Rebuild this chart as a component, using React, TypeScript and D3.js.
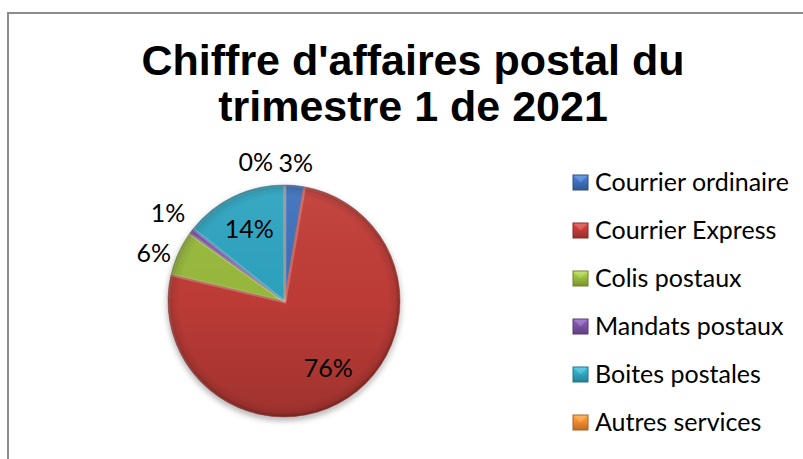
import React from "react";
import * as d3 from "d3";

const categories = [
  "Courrier ordinaire",
  "Courrier Express",
  "Colis postaux",
  "Mandats postaux",
  "Boites postales",
  "Autres services",
];
const values = [2.7, 76.0, 6.2, 0.8, 14.3, 0.0];
const colors = ["#3d71bd", "#c23c38", "#9abb3e", "#7b52a6", "#2fa5c1", "#f28a30"];
const titleLines = ["Chiffre d'affaires postal du", "trimestre 1 de 2021"];

const W = 803;
const H = 459;
const cx = 284;
const cy = 301;
const R = 116;
const labelFont = "Lato, 'Open Sans', sans-serif";
const labelSize = 25;

export default function App() {
  const total = d3.sum(values);
  const pie = d3
    .pie<number>()
    .sort(null)
    .value((d) => d)
    .startAngle(0)
    .endAngle(2 * Math.PI);
  const arcs = pie(values);
  const arcGen = d3.arc<d3.PieArcDatum<number>>().innerRadius(0).outerRadius(R);
  const inLabelArc = d3
    .arc<d3.PieArcDatum<number>>()
    .innerRadius(R * 0.69)
    .outerRadius(R * 0.69);

  const pct = (v: number) => `${Math.round((v / total) * 100)}%`;

  type Lab = { x: number; y: number; text: string; w: number; h: number; top: boolean };
  const labels: Lab[] = [];
  const placed: Lab[] = [];
  const gap = 10;
  const collH = 40;
  arcs.forEach((a) => {
    const text = pct(a.data);
    const w = text.length * labelSize * 0.62;
    const h = labelSize;
    const share = a.data / total;
    if (share >= 0.1) {
      const [x, y] = inLabelArc.centroid(a);
      labels.push({ x, y, text, w, h, top: false });
    } else {
      const mid = (a.startAngle + a.endAngle) / 2;
      const dx = Math.sin(mid);
      const dy = -Math.cos(mid);
      const hw = w / 2;
      const hh = h / 2;
      const d = Math.min(
        Math.abs(dx) > 1e-6 ? hw / Math.abs(dx) : Infinity,
        Math.abs(dy) > 1e-6 ? hh / Math.abs(dy) : Infinity
      );
      const lab: Lab = {
        x: dx * (R + gap + d),
        y: dy * (R + gap + d),
        text,
        w,
        h,
        top: dy < -0.9,
      };
      placed.forEach((p) => {
        const overX = Math.abs(lab.x - p.x) < (lab.w + p.w) / 2 + 4;
        const overY = Math.abs(lab.y - p.y) < collH;
        if (overX && overY) {
          if (lab.top && p.top) {
            if (lab.x <= p.x) lab.x = p.x - (lab.w + p.w) / 2 - 9;
            else lab.x = p.x + (lab.w + p.w) / 2 + 9;
          } else if (p.y > lab.y) {
            p.y = lab.y + collH;
          } else {
            lab.y = p.y + collH;
          }
        }
      });
      placed.push(lab);
      labels.push(lab);
    }
  });

  const legendY = d3.scalePoint<string>().domain(categories).range([182, 422]);

  return (
    <svg
      width={W}
      height={H}
      style={{ position: "absolute", left: 0, top: 0, background: "#fff" }}
    >
      <defs>
        <filter id="shadow" x="-20%" y="-20%" width="140%" height="150%">
          <feDropShadow dx="0" dy="3" stdDeviation="3" floodColor="#000" floodOpacity="0.35" />
        </filter>
        <linearGradient id="shade" x1="0" y1="0" x2="0" y2="1">
          <stop offset="0" stopColor="#fff" stopOpacity="0.06" />
          <stop offset="0.5" stopColor="#000" stopOpacity="0.03" />
          <stop offset="1" stopColor="#000" stopOpacity="0.18" />
        </linearGradient>
        <radialGradient id="rim" cx="0.5" cy="0.5" r="0.5">
          <stop offset="0.9" stopColor="#000" stopOpacity="0" />
          <stop offset="0.965" stopColor="#000" stopOpacity="0.08" />
          <stop offset="1" stopColor="#000" stopOpacity="0.3" />
        </radialGradient>
        {colors.map((c, i) => (
          <linearGradient key={i} id={`lg${i}`} x1="0" y1="0" x2="0" y2="1">
            <stop offset="0" stopColor={d3.color(c)!.brighter(0.5).toString()} />
            <stop offset="0.45" stopColor={c} />
            <stop offset="1" stopColor={d3.color(c)!.darker(0.7).toString()} />
          </linearGradient>
        ))}
      </defs>

      <rect x={8} y={13} width={W} height={H} fill="#fff" stroke="#8c8c8c" strokeWidth={2} />

      <text
        textAnchor="middle"
        fontFamily="'Liberation Sans', Arial, sans-serif"
        fontWeight="bold"
        fontSize={43}
        fill="#000"
      >
        {titleLines.map((t, i) => (
          <tspan key={i} x={413} y={74.5 + i * 46.5}>
            {t}
          </tspan>
        ))}
      </text>

      <g transform={`translate(${cx},${cy})`}>
        <g filter="url(#shadow)">
          {arcs.map((a, i) => (
            <path
              key={i}
              d={arcGen(a) || ""}
              fill={colors[i]}
              stroke={d3.color(colors[i])!.darker(0.8).toString()}
              strokeWidth={0.8}
              strokeOpacity={0.7}
            />
          ))}
        </g>
        <circle r={R} fill="url(#shade)" />
        <circle r={R} fill="url(#rim)" />
        {arcs.map((a, i) => (
          <path
            key={`h${i}`}
            d={arcGen(a) || ""}
            fill="none"
            stroke="#fff"
            strokeOpacity={0.12}
            strokeWidth={3}
            transform="translate(0.8,0.8)"
          />
        ))}
        {labels.map((l, i) => (
          <text
            key={i}
            x={l.x}
            y={l.y}
            dy="0.35em"
            textAnchor="middle"
            fontFamily={labelFont}
            fontSize={labelSize}
            fill="#000"
          >
            {l.text}
          </text>
        ))}
      </g>

      <g>
        {categories.map((c, i) => {
          const y = legendY(c)!;
          return (
            <g key={c}>
              <rect
                x={573}
                y={y - 7}
                width={15}
                height={15}
                fill={`url(#lg${i})`}
                stroke={d3.color(colors[i])!.darker(1).toString()}
                strokeWidth={1}
              />
              <path
                d={`M573.5,${y - 6.5} L587.5,${y - 6.5} L580.5,${y + 0.5} Z`}
                fill="#fff"
                fillOpacity={0.18}
              />
              <text
                x={595}
                y={y}
                dy="0.35em"
                fontFamily={labelFont}
                fontSize={labelSize}
                fill="#000"
              >
                {c}
              </text>
            </g>
          );
        })}
      </g>
    </svg>
  );
}
